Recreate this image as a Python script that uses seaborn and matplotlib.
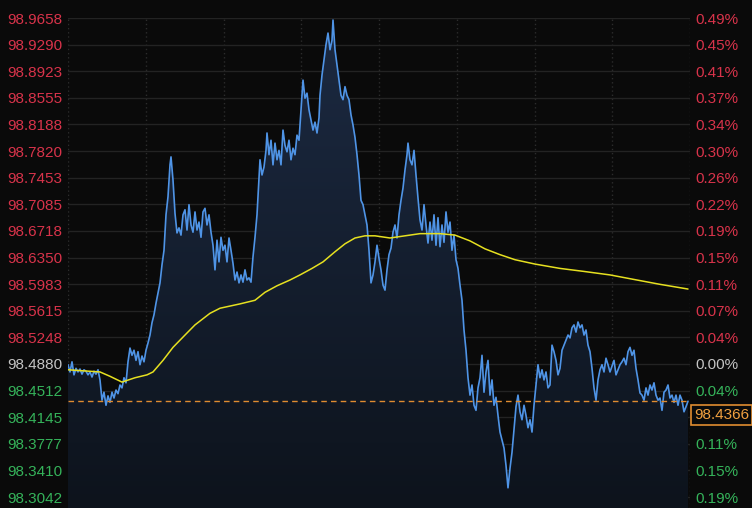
import numpy as np
import pandas as pd
import matplotlib
matplotlib.use("Agg")
import matplotlib.pyplot as plt
import seaborn as sns
from matplotlib.patches import Polygon
from matplotlib.colors import LinearSegmentedColormap

# ---------------- data ----------------
t = [0, 2, 4, 6, 8, 10, 12, 14, 16, 18, 20, 22, 24, 26, 28, 30, 32, 34, 36, 38,
     40, 42, 44, 46, 48, 50, 52, 54, 56, 58, 60, 62, 64, 66, 68, 70, 72, 74, 76, 78,
     80, 82, 84, 86, 88, 90, 92, 94, 96, 98, 100, 102, 103, 105, 107, 109, 111, 113, 115, 117,
     119, 121, 123, 125, 127, 129, 131, 133, 135, 137, 139, 141, 143, 145, 147, 149, 151, 153, 155, 157,
     159, 161, 163, 165, 167, 169, 171, 173, 175, 177, 179, 181, 183, 185, 187, 189, 190, 192, 194, 196,
     198, 199, 201, 203, 205, 207, 209, 211, 213, 215, 217, 219, 221, 223, 225, 227, 229, 231, 233, 235,
     237, 239, 241, 243, 245, 247, 249, 251, 252, 254, 256, 258, 260, 262, 264, 265, 267, 269, 271, 273,
     275, 277, 279, 281, 283, 285, 287, 289, 291, 293, 295, 297, 299, 301, 303, 305, 307, 309, 311, 313,
     315, 317, 319, 321, 323, 325, 327, 329, 331, 333, 335, 337, 339, 340, 342, 344, 346, 348, 350, 352,
     354, 356, 358, 360, 362, 364, 366, 368, 370, 372, 374, 376, 378, 380, 382, 384, 386, 388, 390, 392,
     394, 396, 398, 400, 402, 404, 406, 408, 410, 412, 414, 416, 418, 420, 422, 424, 426, 428, 430, 432,
     434, 436, 438, 440, 442, 444, 446, 448, 450, 452, 454, 456, 458, 460, 462, 464, 466, 468, 470, 472,
     474, 476, 478, 480, 482, 484, 486, 488, 490, 492, 494, 496, 498, 500, 502, 504, 506, 508, 510, 512,
     514, 516, 518, 520, 522, 524, 526, 528, 530, 532, 534, 536, 538, 540, 542, 544, 546, 548, 550, 552,
     554, 556, 558, 560, 562, 564, 566, 568, 570, 572, 574, 576, 578, 580, 582, 584, 586, 588, 590, 592,
     594, 596, 598, 600, 602, 604, 606, 608, 610, 612, 614, 616, 618, 620]

price = [98.487, 98.477, 98.491, 98.473, 98.482, 98.477, 98.481, 98.474, 98.480, 98.478,
         98.473, 98.477, 98.470, 98.478, 98.474, 98.480, 98.466, 98.438, 98.449, 98.431,
         98.444, 98.435, 98.449, 98.441, 98.452, 98.447, 98.459, 98.455, 98.469, 98.462,
         98.491, 98.510, 98.500, 98.507, 98.493, 98.505, 98.487, 98.499, 98.491, 98.507,
         98.517, 98.528, 98.545, 98.556, 98.572, 98.586, 98.600, 98.625, 98.645, 98.694,
         98.719, 98.763, 98.774, 98.742, 98.696, 98.669, 98.676, 98.666, 98.694, 98.701,
         98.673, 98.708, 98.680, 98.670, 98.698, 98.673, 98.684, 98.663, 98.698, 98.703,
         98.680, 98.694, 98.670, 98.652, 98.618, 98.659, 98.629, 98.663, 98.645, 98.652,
         98.629, 98.662, 98.645, 98.627, 98.604, 98.615, 98.600, 98.611, 98.601, 98.618,
         98.604, 98.607, 98.601, 98.636, 98.663, 98.694, 98.719, 98.770, 98.749, 98.760,
         98.783, 98.807, 98.777, 98.797, 98.763, 98.793, 98.770, 98.783, 98.763, 98.811,
         98.790, 98.781, 98.797, 98.770, 98.786, 98.777, 98.804, 98.797, 98.839, 98.880,
         98.855, 98.862, 98.839, 98.825, 98.811, 98.822, 98.807, 98.828, 98.859, 98.887,
         98.908, 98.929, 98.945, 98.922, 98.935, 98.963, 98.922, 98.901, 98.880, 98.859,
         98.853, 98.871, 98.859, 98.853, 98.832, 98.818, 98.801, 98.777, 98.749, 98.714,
         98.708, 98.694, 98.680, 98.645, 98.600, 98.611, 98.629, 98.652, 98.634, 98.618,
         98.597, 98.590, 98.618, 98.639, 98.648, 98.670, 98.680, 98.662, 98.694, 98.714,
         98.731, 98.756, 98.777, 98.793, 98.770, 98.763, 98.783, 98.749, 98.717, 98.687,
         98.673, 98.708, 98.680, 98.655, 98.684, 98.659, 98.694, 98.652, 98.690, 98.650,
         98.680, 98.656, 98.698, 98.670, 98.684, 98.645, 98.666, 98.632, 98.620, 98.597,
         98.576, 98.535, 98.507, 98.469, 98.445, 98.459, 98.431, 98.424, 98.455, 98.469,
         98.500, 98.449, 98.477, 98.493, 98.445, 98.466, 98.431, 98.442, 98.417, 98.394,
         98.383, 98.372, 98.348, 98.317, 98.344, 98.366, 98.397, 98.429, 98.445, 98.422,
         98.411, 98.431, 98.417, 98.400, 98.411, 98.394, 98.431, 98.459, 98.487, 98.469,
         98.480, 98.466, 98.477, 98.455, 98.459, 98.514, 98.505, 98.493, 98.473, 98.482,
         98.507, 98.514, 98.521, 98.528, 98.524, 98.538, 98.542, 98.532, 98.546, 98.538,
         98.542, 98.528, 98.535, 98.514, 98.505, 98.482, 98.455, 98.438, 98.466, 98.480,
         98.487, 98.477, 98.496, 98.487, 98.477, 98.485, 98.493, 98.473, 98.480, 98.487,
         98.491, 98.496, 98.487, 98.505, 98.511, 98.500, 98.507, 98.482, 98.466, 98.448,
         98.445, 98.438, 98.455, 98.445, 98.459, 98.452, 98.462, 98.445, 98.438, 98.441,
         98.424, 98.449, 98.452, 98.459, 98.441, 98.445, 98.435, 98.445, 98.431, 98.445,
         98.438, 98.422, 98.429, 98.4366]

avg_t = [0, 32, 42, 54, 67, 79, 85, 95, 105, 117, 127, 142, 152, 172, 187, 197, 209, 222,
         232, 244, 255, 267, 277, 287, 297, 307, 322, 337, 352, 372, 387, 402, 417, 432,
         447, 467, 492, 515, 542, 565, 592, 620]
avg_price = [98.480, 98.477, 98.471, 98.463, 98.469, 98.473, 98.477, 98.493, 98.511, 98.528,
             98.542, 98.558, 98.565, 98.571, 98.576, 98.587, 98.596, 98.604, 98.611, 98.620,
             98.629, 98.643, 98.654, 98.662, 98.665, 98.665, 98.662, 98.665, 98.668, 98.668,
             98.666, 98.658, 98.647, 98.639, 98.632, 98.626, 98.620, 98.616, 98.611, 98.605,
             98.598, 98.5915]

last_price = 98.4366
prev_close = 98.4880
price_ticks = [98.9658, 98.9290, 98.8923, 98.8555, 98.8188, 98.7820, 98.7453, 98.7085,
               98.6718, 98.6350, 98.5983, 98.5615, 98.5248, 98.4880, 98.4512, 98.4145,
               98.3777, 98.3410, 98.3042]
price_labels = ["98.9658", "98.9290", "98.8923", "98.8555", "98.8188", "98.7820", "98.7453",
                "98.7085", "98.6718", "98.6350", "98.5983", "98.5615", "98.5248", "98.4880",
                "98.4512", "98.4145", "98.3777", "98.3410", "98.3042"]
pct_labels = ["0.49%", "0.45%", "0.41%", "0.37%", "0.34%", "0.30%", "0.26%", "0.22%",
              "0.19%", "0.15%", "0.11%", "0.07%", "0.04%", "0.00%", "0.04%", "0.07%",
              "0.11%", "0.15%", "0.19%"]

# ---------------- style ----------------
BG = "#0a0a0a"
BLUE = "#4f94e6"
YELLOW = "#e6e020"
RED = "#d8334a"
GREEN = "#35b35a"
GRAY = "#c4c4c4"
ORANGE = "#e08c30"

sns.set_style("dark", {"axes.facecolor": BG, "figure.facecolor": BG})
plt.rcParams["font.family"] = ["Liberation Sans", "DejaVu Sans"]

fig = plt.figure(figsize=(7.52, 5.08), dpi=100, facecolor=BG)
ax = fig.add_axes([68 / 752, 0.0, 622 / 752, 490 / 508])
ax.set_facecolor(BG)

step = (price_ticks[0] - price_ticks[-1]) / (len(price_ticks) - 1)
ymin = price_ticks[-1] - 0.41 * step
ymax = price_ticks[0]
xmax = 622

# gradient fill under the price line
df = pd.DataFrame({"t": t, "price": price})
verts = [(t[0], ymin)] + list(zip(t, price)) + [(t[-1], ymin)]
poly = Polygon(verts, closed=True, facecolor="none", edgecolor="none")
ax.add_patch(poly)
cmap = LinearSegmentedColormap.from_list("fillgrad", ["#0d131c", "#1c2a42"])
grad = np.linspace(0, 1, 256).reshape(-1, 1)
im = ax.imshow(grad, extent=[0, xmax, ymin, ymax], aspect="auto", cmap=cmap,
               origin="lower", zorder=1, interpolation="bicubic")
im.set_clip_path(poly)

sns.lineplot(data=df, x="t", y="price", ax=ax, color=BLUE, linewidth=1.2,
             estimator=None, zorder=3)
adf = pd.DataFrame({"t": avg_t, "price": avg_price})
sns.lineplot(data=adf, x="t", y="price", ax=ax, color=YELLOW, linewidth=1.1,
             estimator=None, zorder=4)

ax.axhline(last_price, color=ORANGE, linestyle=(0, (4, 3)), linewidth=1.0, zorder=5)

ax.set_xlim(0, xmax)
ax.set_ylim(ymin, ymax)
ax.set_xlabel("")
ax.set_ylabel("")

# grid
ax.set_xticks(np.linspace(0, xmax, 9))
ax.set_xticklabels([])
ax.tick_params(axis="x", length=0)
ax.grid(axis="x", color="#2c2c2c", linestyle=(0, (1, 2)), linewidth=1.0)
ax.set_yticks(price_ticks)
ax.grid(axis="y", color="#232323", linestyle="-", linewidth=1.0)
ax.set_axisbelow(True)

def col(v):
    if abs(v - prev_close) < 1e-6:
        return GRAY
    return RED if v > prev_close else GREEN

ax.set_yticklabels(price_labels)
ax.tick_params(axis="y", length=0, pad=4, labelsize=11)
for lab, v in zip(ax.get_yticklabels(), price_ticks):
    lab.set_color(col(v))

for s in ax.spines.values():
    s.set_visible(False)

ax2 = ax.twinx()
ax2.set_ylim(ymin, ymax)
ax2.set_yticks(price_ticks)
ax2.set_yticklabels(pct_labels)
ax2.tick_params(axis="y", length=0, pad=4, labelsize=11)
ax2.grid(False)
box_center = last_price - 0.55 * step
for lab, v in zip(ax2.get_yticklabels(), price_ticks):
    lab.set_color(col(v))
    # the last-price tag covers the right-axis label it sits on
    if abs(v - box_center) < 0.5 * step:
        lab.set_visible(False)
for s in ax2.spines.values():
    s.set_visible(False)

ax2.annotate(f"{last_price:.4f}", xy=(1.0, last_price), xycoords=ax2.get_yaxis_transform(),
             xytext=(4, -14), textcoords="offset pixels", ha="left", va="center",
             color="#f0a040", fontsize=11, zorder=10, annotation_clip=False,
             bbox=dict(boxstyle="square,pad=0.2", fc=BG, ec=ORANGE, lw=1.2))

fig.savefig("out.png", dpi=100, facecolor=BG)
